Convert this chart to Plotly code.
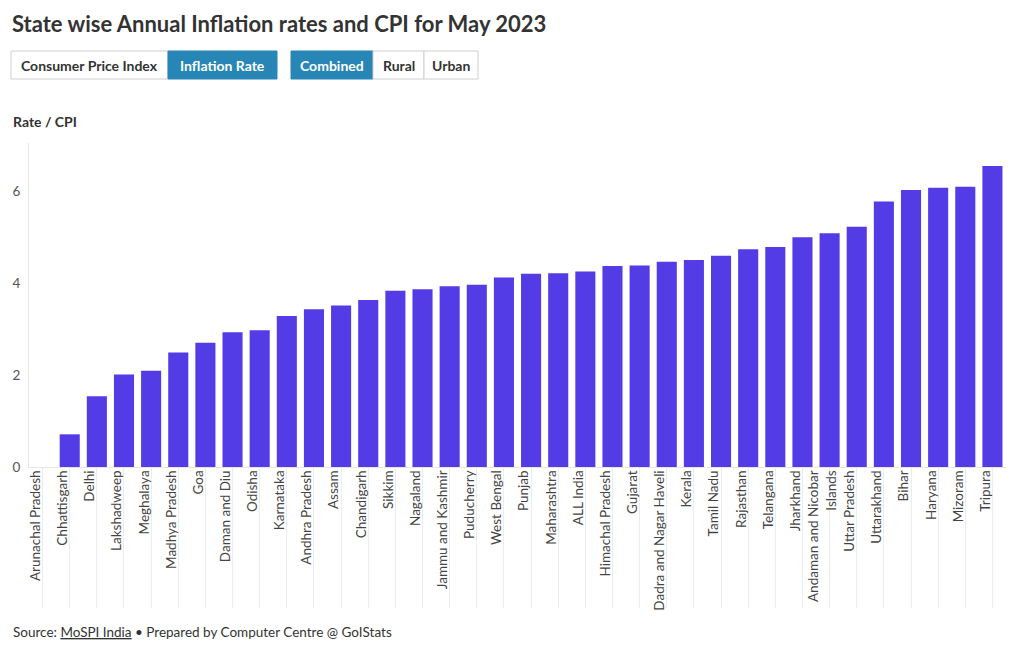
import plotly.graph_objects as go

# ---- data ----
states = [
    "Arunachal Pradesh", "Chhattisgarh", "Delhi", "Lakshadweep", "Meghalaya",
    "Madhya Pradesh", "Goa", "Daman and Diu", "Odisha", "Karnataka",
    "Andhra Pradesh", "Assam", "Chandigarh", "Sikkim", "Nagaland",
    "Jammu and Kashmir", "Puducherry", "West Bengal", "Punjab", "Maharashtra",
    "ALL India", "Himachal Pradesh", "Gujarat", "Dadra and Nagar Haveli", "Kerala",
    "Tamil Nadu", "Rajasthan", "Telangana", "Jharkhand", "Andaman and Nicobar Islands",
    "Uttar Pradesh", "Uttarakhand", "Bihar", "Haryana", "Mizoram", "Tripura",
]
inflation_rate = [
    0.0, 0.71, 1.54, 2.01, 2.09,
    2.49, 2.70, 2.93, 2.97, 3.28,
    3.43, 3.51, 3.63, 3.83, 3.86,
    3.93, 3.96, 4.12, 4.20, 4.21,
    4.25, 4.37, 4.38, 4.46, 4.50,
    4.59, 4.73, 4.78, 4.99, 5.08,
    5.22, 5.77, 6.02, 6.07, 6.09, 6.54,
]
tick_labels = [s.replace("Andaman and Nicobar Islands", "Andaman and Nicobar<br>Islands") for s in states]
y_ticks = [0, 2, 4, 6]

title_text = "State wise Annual Inflation rates and CPI for May 2023"
measure_buttons = ["Consumer Price Index", "Inflation Rate"]
area_buttons = ["Combined", "Rural", "Urban"]

# ---- layout geometry (page body has an 8px margin) ----
OFF = 8
W, H = 1020 - OFF, 650 - OFF
L = 29 - OFF
PLOT_R = 1006 - OFF
PLOT_T = 143 - OFF
PLOT_B = 467 - OFF
R, T, B = W - PLOT_R, PLOT_T, H - PLOT_B
PW, PH = W - L - R, H - T - B
FONT = "Source Sans Pro, Lato, sans-serif"
BAR = "#533be6"
BLUE = "#2886b6"


def px(x):
    return (x - OFF - L) / PW


def py(y):
    return (PLOT_B - (y - OFF)) / PH


fig = go.Figure(
    go.Bar(
        x=states,
        y=inflation_rate,
        marker=dict(color=BAR, line=dict(width=0)),
        hovertemplate="%{x}: %{y}<extra></extra>",
    )
)

shapes = []
annotations = []


def add_button(x0, x1, label, active):
    y0, y1 = 51, 79
    shapes.append(dict(
        type="rect", xref="paper", yref="paper",
        x0=px(x0), x1=px(x1), y0=py(y1), y1=py(y0),
        fillcolor=BLUE if active else "white",
        line=dict(color=BLUE if active else "#cfcfcf", width=1),
        layer="above",
    ))
    annotations.append(dict(
        text="<b>%s</b>" % label, xref="paper", yref="paper",
        x=px((x0 + x1) / 2), y=py((y0 + y1) / 2),
        xanchor="center", yanchor="middle", showarrow=False,
        font=dict(family=FONT, size=14, color="white" if active else "#333333"),
    ))


edges1 = [11, 168, 277]
for i, lab in enumerate(measure_buttons):
    add_button(edges1[i], edges1[i + 1], lab, lab == "Inflation Rate")
edges2 = [291, 373, 424, 478]
for i, lab in enumerate(area_buttons):
    add_button(edges2[i], edges2[i + 1], lab, lab == "Combined")

annotations.append(dict(
    text="<b>Rate / CPI</b>", xref="paper", yref="paper",
    x=px(11), y=py(122), xanchor="left", yanchor="middle", showarrow=False,
    font=dict(family=FONT, size=14, color="#333333"),
))
annotations.append(dict(
    text="Source: <u>MoSPI India</u> \u2022 Prepared by Computer Centre @ GoIStats",
    xref="paper", yref="paper",
    x=px(11), y=py(632), xanchor="left", yanchor="middle", showarrow=False,
    font=dict(family=FONT, size=13.5, color="#333333"),
))

fig.update_layout(
    width=W, height=H,
    margin=dict(l=L, r=R, t=T, b=B, pad=0),
    paper_bgcolor="white", plot_bgcolor="white",
    font=dict(family=FONT, color="#444444"),
    title=dict(
        text="<b>%s</b>" % title_text,
        x=(12 - OFF) / W, xref="container", xanchor="left",
        y=1 - (24 - OFF) / H, yref="container", yanchor="middle",
        font=dict(family=FONT, size=22, color="#333333"),
    ),
    bargap=0.26,
    showlegend=False,
    shapes=shapes,
    annotations=annotations,
    xaxis=dict(
        type="category",
        tickmode="array", tickvals=states, ticktext=tick_labels,
        tickangle=-90,
        ticks="outside", ticklen=140, tickcolor="#ececec", tickwidth=1,
        ticklabelstandoff=-143, ticklabelshift=-7,
        tickfont=dict(family=FONT, size=13.5, color="#444444"),
        showline=True, linecolor="#e6e6e6", linewidth=1,
        showgrid=False, automargin=False,
    ),
    yaxis=dict(
        range=[0, 7.04],
        tickmode="array", tickvals=y_ticks,
        ticklabelstandoff=5,
        tickfont=dict(family=FONT, size=13.5, color="#555555"),
        showline=True, linecolor="#e6e6e6", linewidth=1,
        showgrid=False, zeroline=False, ticks="",
        automargin=False,
    ),
)

fig.write_html("out.html")
